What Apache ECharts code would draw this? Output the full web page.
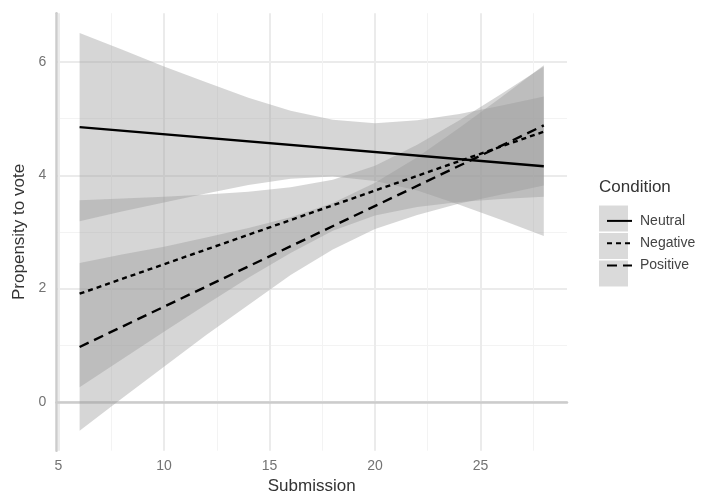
<!DOCTYPE html>
<html>
<head>
<meta charset="utf-8">
<script src="https://cdn.jsdelivr.net/npm/echarts@6/dist/echarts.min.js"></script>
<style>
  html, body { margin: 0; padding: 0; background: #fff; }
  #chart { width: 708px; height: 498px; }
</style>
</head>
<body>
<div id="chart"></div>
<script>
// values
var conditions = ['Neutral', 'Negative', 'Positive'];
var bandX = [6, 8, 10, 12, 14, 16, 18, 20, 22, 24, 26, 28];
var neutralLo  = [3.19, 3.36, 3.52, 3.68, 3.83, 3.94, 3.98, 3.90, 3.73, 3.48, 3.21, 2.93];
var neutralHi  = [6.51, 6.22, 5.92, 5.64, 5.37, 5.14, 4.98, 4.92, 4.97, 5.08, 5.23, 5.39];
var negativeLo = [0.26, 0.75, 1.24, 1.72, 2.19, 2.63, 3.02, 3.29, 3.44, 3.53, 3.58, 3.62];
var negativeHi = [3.56, 3.59, 3.62, 3.66, 3.71, 3.79, 3.92, 4.17, 4.54, 4.97, 5.44, 5.92];
var positiveLo = [-0.51, 0.06, 0.62, 1.18, 1.71, 2.24, 2.69, 3.05, 3.30, 3.50, 3.66, 3.82];
var positiveHi = [2.45, 2.60, 2.74, 2.90, 3.07, 3.26, 3.51, 3.87, 4.32, 4.84, 5.38, 5.94];
var lineX = [6, 28];
var neutralFit  = [4.85, 4.16];
var negativeFit = [1.91, 4.77];
var positiveFit = [0.97, 4.88];

var bands = [[neutralLo, neutralHi], [negativeLo, negativeHi], [positiveLo, positiveHi]];
var fits = [neutralFit, negativeFit, positiveFit];
var dashes = ['solid', [5, 4], [10, 6]];

function bandRows(lo, hi) {
  return bandX.map(function (x, i) { return [x, lo[i], hi[i]]; });
}

// one polygon per band, built from the series' own rows
function renderBand(params, api) {
  if (params.dataIndexInside !== 0) return null;
  var n = params.dataInsideLength;
  var top = [], bottom = [];
  for (var i = 0; i < n; i++) {
    var x = api.value(0, i);
    top.push(api.coord([x, api.value(2, i)]));
    bottom.unshift(api.coord([x, api.value(1, i)]));
  }
  return {
    type: 'polygon',
    shape: { points: top.concat(bottom) },
    style: { fill: 'rgba(153,153,153,0.4)', stroke: null }
  };
}

var series = [];
bands.forEach(function (b, k) {
  series.push({
    name: conditions[k] + ' band',
    type: 'custom',
    renderItem: renderBand,
    data: bandRows(b[0], b[1]),
    encode: { x: 0, y: [1, 2] },
    silent: true,
    z: 1
  });
});
fits.forEach(function (f, k) {
  series.push({
    name: conditions[k],
    type: 'line',
    data: lineX.map(function (x, i) { return [x, f[i]]; }),
    symbol: 'none',
    lineStyle: { color: '#000', width: 2.4, type: dashes[k] },
    itemStyle: { color: '#000' },
    z: 3
  });
});

var gridLine = { show: true, lineStyle: { color: '#ebebeb', width: 2 } };
var minorLine = { show: true, lineStyle: { color: '#f3f3f3', width: 1 } };
var axisLine = { show: true, lineStyle: { color: '#cccccc', width: 2.5 } };

var option = {
  animation: false,
  textStyle: { fontFamily: 'Liberation Sans, Arial, sans-serif' },
  title: {
    text: 'Condition',
    left: 594,
    top: 174,
    textStyle: { fontSize: 17, fontWeight: 'normal', color: '#333' }
  },
  legend: {
    data: conditions,
    orient: 'vertical',
    left: 601,
    top: 205.5,
    itemWidth: 25,
    itemHeight: 26,
    itemGap: 1.5,
    selectedMode: false,
    z: 10,
    itemStyle: { opacity: 0 },
    textStyle: { fontSize: 14, color: '#444', padding: [0, 0, 0, 3] }
  },
  graphic: [
    { type: 'rect', z: 0, shape: { x: 599, y: 205.5, width: 29, height: 26 }, style: { fill: '#dadada' } },
    { type: 'rect', z: 0, shape: { x: 599, y: 233, width: 29, height: 26 }, style: { fill: '#dadada' } },
    { type: 'rect', z: 0, shape: { x: 599, y: 260.5, width: 29, height: 26 }, style: { fill: '#dadada' } }
  ],
  grid: { left: 56.4, top: 13.2, width: 510.6, height: 437.5, containLabel: false, outerBoundsMode: 'none' },
  xAxis: {
    type: 'value',
    min: 4.9,
    max: 29.1,
    name: 'Submission',
    nameLocation: 'middle',
    nameGap: 27,
    nameTextStyle: { fontSize: 17, color: '#333' },
    axisLine: axisLine,
    axisTick: { show: false },
    minorTick: { show: false, splitNumber: 2 },
    axisLabel: {
      fontSize: 14, color: '#737373', margin: 8,
      showMinLabel: false, showMaxLabel: false,
      formatter: function (v) { return v % 5 === 0 ? String(v) : ''; }
    },
    splitLine: Object.assign({ showMinLine: false, showMaxLine: false }, gridLine),
    minorSplitLine: minorLine
  },
  yAxis: {
    type: 'value',
    min: -0.86,
    max: 6.86,
    name: 'Propensity to vote',
    nameLocation: 'middle',
    nameGap: 27,
    nameTextStyle: { fontSize: 17, color: '#333' },
    axisLine: axisLine,
    axisTick: { show: false },
    minorTick: { show: false, splitNumber: 2 },
    axisLabel: {
      fontSize: 14, color: '#737373', margin: 10,
      showMinLabel: false, showMaxLabel: false,
      formatter: function (v) { return v % 2 === 0 ? String(v) : ''; }
    },
    splitLine: Object.assign({ showMinLine: false, showMaxLine: false }, gridLine),
    minorSplitLine: minorLine
  },
  series: series
};

var myChart = echarts.init(document.getElementById('chart'), null, { renderer: 'canvas' });
myChart.setOption(option);
</script>
</body>
</html>
